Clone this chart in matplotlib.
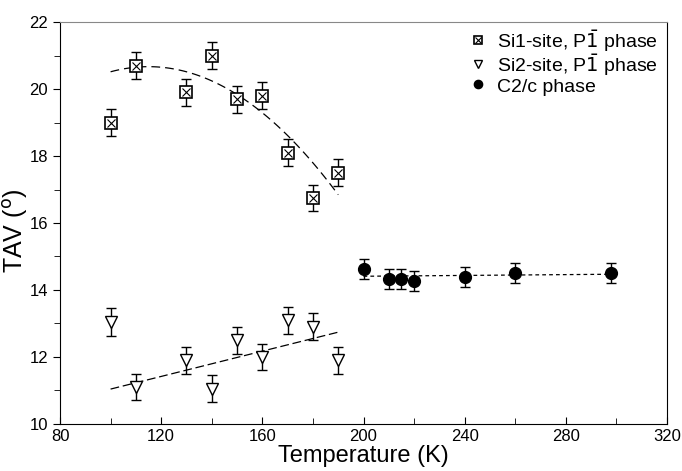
import numpy as np
import matplotlib
matplotlib.use("Agg")
import matplotlib.pyplot as plt
from matplotlib.legend_handler import HandlerTuple

plt.rcParams['font.family'] = ['Liberation Sans', 'DejaVu Sans']

# Si1-site, P-1 phase
t_si1 = [100, 110, 130, 140, 150, 160, 170, 180, 190]
tav_si1 = [19.0, 20.7, 19.9, 21.0, 19.7, 19.8, 18.1, 16.75, 17.5]
err_si1 = [0.4, 0.4, 0.4, 0.4, 0.4, 0.4, 0.4, 0.4, 0.4]

# Si2-site, P-1 phase
t_si2 = [100, 110, 130, 140, 150, 160, 170, 180, 190]
tav_si2 = [13.05, 11.1, 11.9, 11.05, 12.5, 12.0, 13.1, 12.9, 11.9]
err_si2 = [0.42, 0.4, 0.4, 0.4, 0.4, 0.4, 0.4, 0.4, 0.4]

# C2/c phase
t_c2c = [200, 210, 215, 220, 240, 260, 298]
tav_c2c = [14.62, 14.32, 14.34, 14.27, 14.4, 14.5, 14.5]
err_c2c = [0.3, 0.3, 0.3, 0.3, 0.3, 0.3, 0.3]

# fit curves (coefficients)
si1_fit_peak_t, si1_fit_peak_v, si1_fit_curv = 115.0, 20.67, 0.00068
si2_fit_ends = ([100, 190], [11.04, 12.74])
c2c_fit_ends = ([200, 298], [14.41, 14.47])

labels = ['Si1-site, P$\\bar{1}$ phase', 'Si2-site, P$\\bar{1}$ phase', 'C2/c phase']

fig = plt.figure(figsize=(6.82, 4.71), dpi=100)
ax = fig.add_axes([0.088, 0.1, 0.89, 0.853])

tt = np.linspace(100, 190, 100)
ax.plot(tt, si1_fit_peak_v - si1_fit_curv * (tt - si1_fit_peak_t) ** 2,
        color='black', lw=0.9, dashes=(7, 4))
ax.plot(*si2_fit_ends, color='black', lw=0.9, dashes=(7, 3))
ax.plot(*c2c_fit_ends, color='black', lw=0.9, dashes=(3, 2.5))

eb = dict(fmt='none', ecolor='black', elinewidth=1, capsize=3.5, capthick=1)
ax.errorbar(t_si1, tav_si1, yerr=err_si1, **eb)
ax.errorbar(t_si2, tav_si2, yerr=err_si2, **eb)
ax.errorbar(t_c2c, tav_c2c, yerr=err_c2c, **eb)

sq, = ax.plot(t_si1, tav_si1, 's', ms=8, mfc='white', mec='black', mew=1.2, ls='none')
xx, = ax.plot(t_si1, tav_si1, 'x', ms=5.5, mec='black', mew=0.8, ls='none')
tri, = ax.plot(t_si2, tav_si2, 'v', ms=9, mfc='white', mec='black', mew=1.0, ls='none')
circ, = ax.plot(t_c2c, tav_c2c, 'o', ms=8.5, mfc='black', mec='black', ls='none')

ax.set_xlim(80, 320)
ax.set_ylim(10, 22)
ax.set_xticks(range(80, 321, 40))
ax.set_xticks(range(100, 320, 40), minor=True)
ax.set_yticks(range(10, 23, 2))
ax.set_yticks(range(11, 22, 2), minor=True)
ax.tick_params(axis='x', which='both', direction='in', labelsize=12)
ax.tick_params(axis='y', which='both', direction='out', labelsize=12)
ax.tick_params(which='major', length=5)
ax.tick_params(which='minor', length=4)
ax.spines['top'].set_color('#888888')

ax.set_xlabel('Temperature (K)', fontsize=17, labelpad=1)
ax.set_ylabel('TAV ($^{\\mathrm{o}}$)', fontsize=18)
ax.yaxis.set_label_coords(-0.05, 0.48)

leg = ax.legend([(sq, xx), tri, circ], labels,
                handler_map={tuple: HandlerTuple(ndivide=1)},
                loc='upper right', bbox_to_anchor=(1.005, 1.015), frameon=False,
                fontsize=14, handlelength=1.0, handleheight=1.0, handletextpad=0.5,
                labelspacing=-0.08, borderpad=0.1, markerscale=0.7)

fig.savefig('out.png', dpi=100)
